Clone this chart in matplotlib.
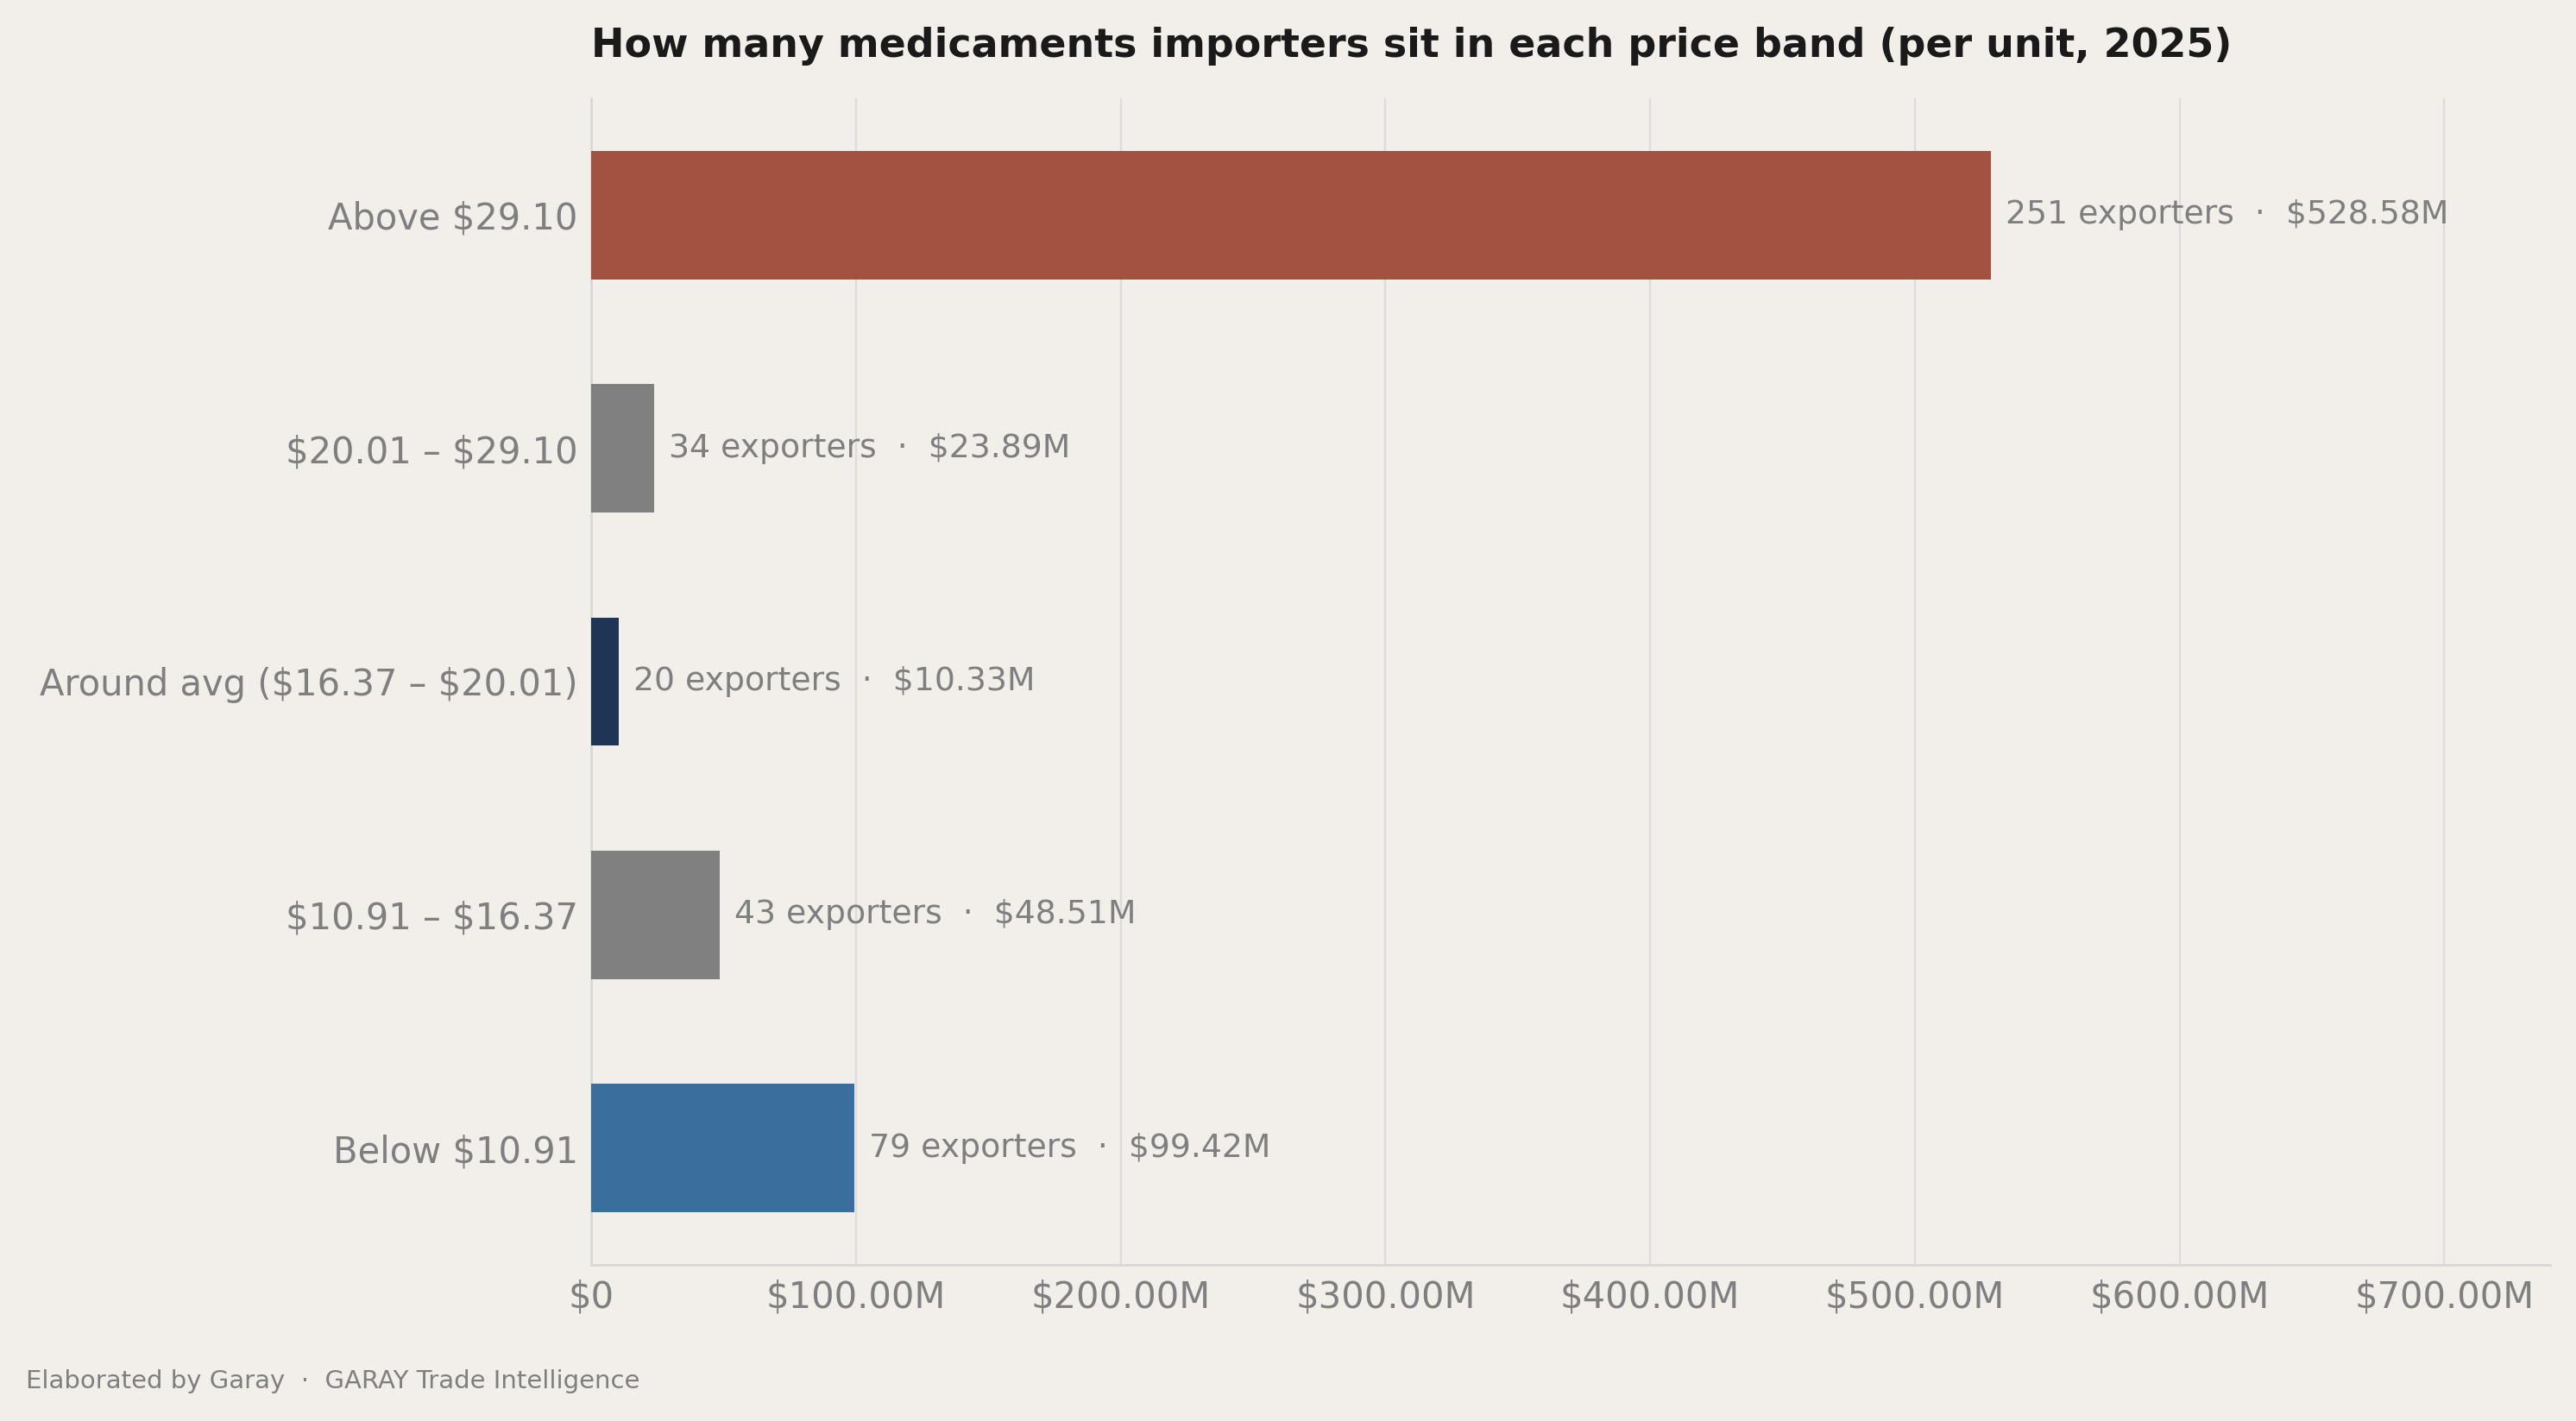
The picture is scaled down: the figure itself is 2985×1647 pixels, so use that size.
import numpy as np
import matplotlib
matplotlib.use("Agg")
import matplotlib.pyplot as plt

# price bands, bottom to top
bands = ["Below $10.91", "$10.91 – $16.37", "Around avg ($16.37 – $20.01)",
         "$20.01 – $29.10", "Above $29.10"]
values_musd = [99.42, 48.51, 10.33, 23.89, 528.58]
exporters = [79, 43, 20, 34, 251]
bar_colors = ["#3A6E9C", "#808080", "#1F3556", "#808080", "#A35141"]
xticks_musd = [0, 100, 200, 300, 400, 500, 600, 700]

bg = "#F2EEEA"
grey_txt = "#7F7F7F"

fig = plt.figure(figsize=(14.925, 8.235), dpi=200, facecolor=bg)
ax = fig.add_axes([0.2295, 0.1099, 0.7605, 0.8209])
ax.set_facecolor(bg)

y = np.arange(len(bands))
ax.barh(y, values_musd, height=0.55, color=bar_colors, zorder=3)

xmax = max(values_musd) * 1.4
ax.set_xlim(0, xmax)
ax.set_ylim(-0.5, len(bands) - 0.5)

# value labels at the end of each bar
for yi, v, n in zip(y, values_musd, exporters):
    ax.text(v + xmax * 0.0075, yi, f"{n} exporters  ·  \\${v:.2f}M",
            va="center", ha="left", fontsize=13.6, color=grey_txt, zorder=4)

ax.set_yticks(y)
ax.set_yticklabels([b.replace("$", r"\$") for b in bands])
ax.set_xticks(xticks_musd)
ax.set_xticklabels(["\\$0" if t == 0 else f"\\${t:.2f}M" for t in xticks_musd])
ax.tick_params(axis="y", length=0, pad=5.5, labelsize=15.0, labelcolor=grey_txt)
ax.tick_params(axis="x", length=0, pad=6, labelsize=15, labelcolor=grey_txt)

ax.grid(axis="x", color="#DCDCDC", linewidth=0.8, zorder=0)
ax.grid(axis="y", visible=False)
for side in ["top", "right"]:
    ax.spines[side].set_visible(False)
for side in ["left", "bottom"]:
    ax.spines[side].set_color("#D8D8D8")
    ax.spines[side].set_linewidth(1.0)

fig.text(0.2295, 0.9675, "How many medicaments importers sit in each price band (per unit, 2025)",
         ha="left", va="center", fontsize=16.5, fontweight="bold", color="#1A1A1A")
fig.text(0.01, 0.028, "Elaborated by Garay  ·  GARAY Trade Intelligence",
         ha="left", va="center", fontsize=10.5, color=grey_txt)

fig.savefig("out.png", dpi=200, facecolor=bg)
